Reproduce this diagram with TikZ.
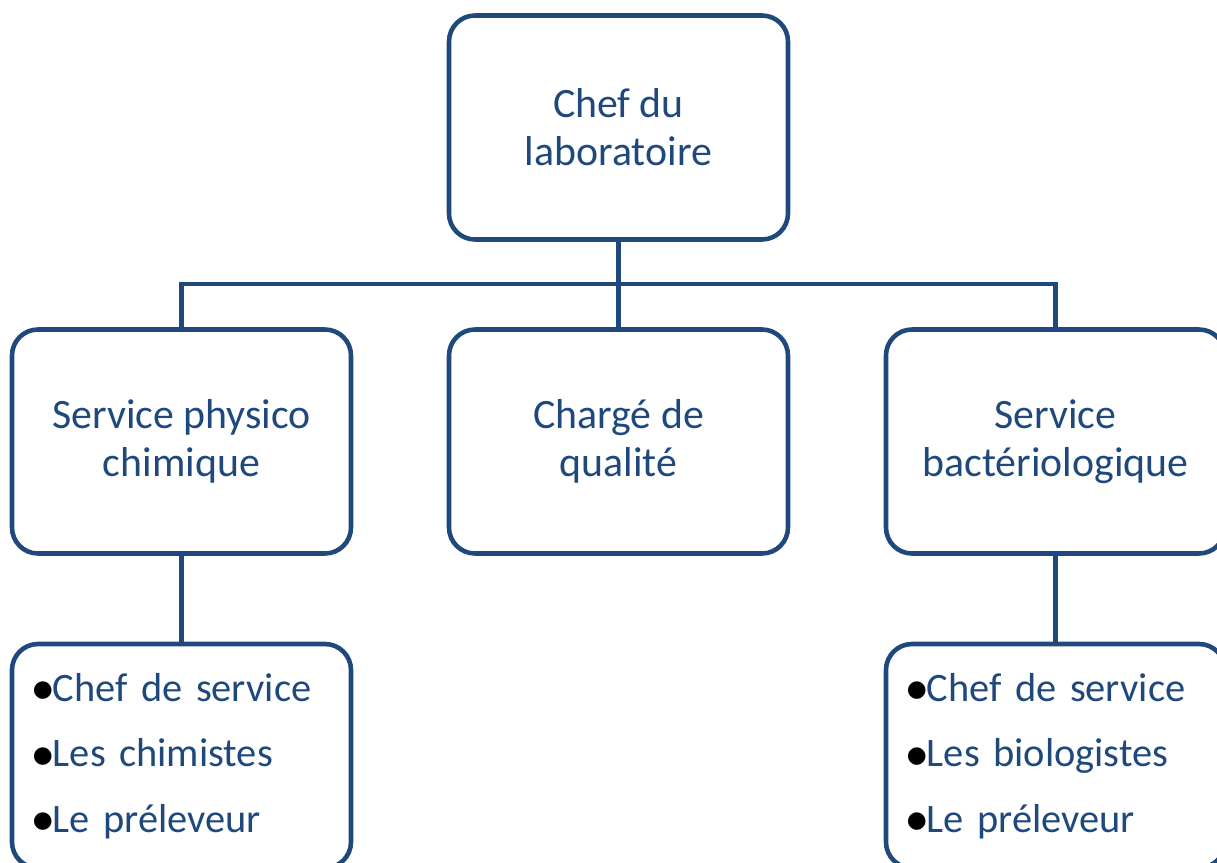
\documentclass[tikz,border=0pt]{standalone}
\usepackage{fontspec}
\setmainfont{Carlito}
\newfontfamily\symbfont{DejaVu Sans}
\usetikzlibrary{positioning}

\definecolor{orgblue}{RGB}{31,73,125}
\newcommand{\puce}{{\color{black}\raisebox{1.3pt}{\fontsize{6.5}{6.5}\symbfont ●}}}

\begin{document}
\begin{tikzpicture}[
    orgbox/.style={draw=orgblue, line width=1.3pt, rounded corners=0.26cm, fill=white,
      minimum width=3.39cm, minimum height=2.24cm, text=orgblue, align=center,
      font=\fontsize{11.9}{13.6}\selectfont},
    listbox/.style={orgbox, align=left, text width=2.97cm, inner xsep=0.21cm,
      font=\fontsize{11.5}{18.6}\selectfont},
    link/.style={draw=orgblue, line width=1.3pt}
  ]
    \clip (0,0) rectangle (12.17,8.62);

    \node (chef-labo) at (6.185,7.345) [orgbox] {Chef du\\laboratoire};

    \node (service-physico) at (1.815,4.205) [orgbox] {Service physico\\chimique};
    \node (charge-qualite) at (6.185,4.205) [orgbox] {Chargé de\\qualité};
    \node (service-bacterio) at (10.555,4.205) [orgbox] {Service\\bactériologique};

    \node (liste-physico) at (1.815,1.06) [listbox]
      {\puce Chef de service\\\puce Les chimistes\\\puce Le préleveur};
    \node (liste-bacterio) at (10.555,1.06) [listbox]
      {\puce Chef de service\\\puce Les biologistes\\\puce Le préleveur};

    \coordinate (bar) at (6.185,5.78);

    \path[link] (chef-labo.south) -- (charge-qualite.north);
    \path[link] (service-physico.north) |- (bar) -| (service-bacterio.north);
    \path[link] (service-physico.south) -- (liste-physico.north);
    \path[link] (service-bacterio.south) -- (liste-bacterio.north);
  \end{tikzpicture}
\end{document}
